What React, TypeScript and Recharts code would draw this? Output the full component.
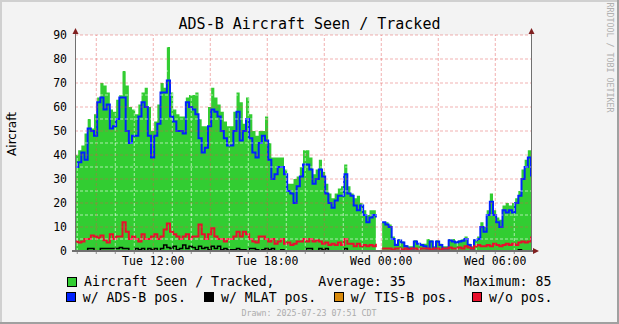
import React from 'react';
import { ComposedChart, Area, Line, XAxis, YAxis, ReferenceLine } from 'recharts';

// x positions: hours since Tue 00:00, one reading every 10 minutes
const startHour = 7.88;
const stepHours = 1 / 6;

const seenTracked = [
  40, 42, 44, 49, 55, 51, 57, 64, 70, 69,
  66, 59, 58, 63, 65, 75, 69, 60, 59, 57,
  61, 66, 68, 60, 50, 54, 61, 70, 68, 85,
  66, 59, 57, 56, 56, 64, 65, 65, 66, 55,
  52, 52, 60, 68, 64, 61, 58, 54, 52, 52,
  58, 66, 62, 53, 64, 57, 50, 48, 50, 50,
  56, 45, 39, 39, 39, 39, 34, 28, 28, 30,
  31, 35, 42, 42, 39, 32, 34, 38, 33, 28,
  24, 22, 24, 26, 27, 36, 27, 24, 22, 23,
  20, 17, 15, 17, 17, 16, null, 12, 12, 11,
  6, 3, 5, 4, 2.5, 2, 2, 4.5, 3, 3,
  3, 5, 4.5, 2, 4.5, 3, 2, 2, 5, 5,
  4, 4.5, 5, 6, 3, 2, 5, 6, 12, 10,
  17, 24, 17, 14, 13, 19, 20, 19, 20, 22,
  25, 34, 38, 42, 36,
];

const adsbPos = [
  35, 37, 41, 38, 51, 50, 48, 62, 64, 59,
  61, 51, 52, 55, 64, 64, 50, 45, 48, 48,
  56, 62, 60, 48, 39, 48, 53, 66, 66, 71,
  56, 54, 50, 50, 49, 62, 60, 59, 57, 47,
  41, 43, 52, 59, 58, 56, 50, 47, 44, 44,
  50, 58, 46, 50, 55, 47, 41, 39, 45, 48,
  46, 38, 30, 32, 35, 35, 32, 25, 24, 20,
  27, 31, 36, 36, 34, 28, 30, 34, 31, 24,
  20, 18, 21, 23, 23, 32, 24, 23, 19, 17,
  19, 15, 12, 14, 15, 14, null, 12, 11, 10,
  5, 2.5, 4.5, 3.5, 2, 1, 1, 4, 3, 2.5,
  2, 1, 4, 1, 4, 2.5, 1, 1, 4.5, 4,
  3.5, 4, 4.3, 5, 2.5, 1, 4.5, 5, 10, 8,
  15, 20.5, 15, 12, 10, 17, 16, 17, 16, 20,
  23, 30, 35, 39, 31,
];

const mlatPos = [
  0, 0, 0, 0, 1, 1, 0, 0, 1, 1,
  1, 1, 1, 1, 1.5, 1, 1, 0, 0, 1,
  0.5, 1, 0, 1, 0.5, 1, 0, 1, 2.5, 1.5,
  1, 2, 0.5, 1, 2.5, 1, 2, 1.5, 0.5, 2,
  1, 1.5, 0.5, 2, 1, 2, 0.5, 1, 0.5, 0.5,
  0.5, 1, 0.5, 0.5, 0, 1, 1, 0.5, 0, 0.5,
  1, 0.5, 1, 0, 0, 0.5, 0, 0, 0, 0,
  0, 0, 0, 1, 1, 0, 0, 1, 0.5, 1,
  0, 0, 0, 0, 0, 1, 0, 0, 0, 0,
  0, 0, 0, 0, 0, 0, null, 0, 0, 0,
  0, 0, 0, 0, 0, 0, 0, 0, 0, 0,
  0, 0, 0, 0, 0, 0, 0, 0, 0, 0,
  0, 0, 0, 0, 0, 0, 0, 0, 0, 0,
  0, 0, 0, 0, 0, 0, 0, 0, 0, 0,
  0.5, 0, 0, 0, 0,
];

const tisbPos = [
  0, 0, 0, 0, 0, 0, 0, 0, 0, 0,
  0, 0, 0, 0, 0, 0, 0, 0, 0, 0,
  0, 0, 0, 0, 0, 0, 0, 0, 0, 0,
  0, 0, 0, 0, 0, 0, 0, 0, 0, 0,
  0, 0, 0, 0, 0, 0, 0, 0, 0, 0,
  0, 0, 0, 0, 0, 0, 0, 0, 0, 0,
  0, 0, 0, 0, 0, 0, 0, 0, 0, 0,
  0, 0, 0, 0, 0, 0, 0, 0, 0, 0,
  0, 0, 0, 0, 0, 0, 0, 0, 0, 0,
  0, 0, 0, 0, 0, 0, null, 0, 0, 0,
  0, 0, 0, 0, 0, 0, 0, 0, 0, 0,
  0, 0, 0, 0, 0, 0, 0, 0, 0, 0,
  0, 0, 0, 0, 0, 0, 0, 0, 0, 0,
  0, 0, 0, 0, 0, 0, 0, 0, 0, 0,
  0, 0, 0, 0, 0,
];

const noPos = [
  4, 3.5, 4, 5, 5, 6.5, 6, 5.5, 6.5, 4.5,
  3.5, 7, 5, 6, 6, 12, 8, 5, 6, 5,
  4, 7, 5, 5, 6, 7, 5, 6, 9, 11.5,
  8, 7, 6, 5, 6, 7, 5, 6, 6, 11,
  7, 5, 7, 9.5, 6, 5, 5, 4, 5, 5,
  6, 8, 6, 8, 7, 5, 4, 3.5, 6, 6,
  5, 4, 5, 3, 4, 5, 3, 3.5, 2.5, 3,
  4, 4, 5, 4, 5, 4, 4.5, 4, 3, 3.5,
  2.5, 3, 2.5, 3.5, 2.5, 5, 3, 3, 2, 3,
  2, 2.5, 2, 2.5, 2, 3, null, 1, 1, 1,
  0.5, 1, 1, 0.5, 1, 0.5, 1, 1, 0.5, 1,
  1, 1, 0.5, 1, 1, 0.5, 1, 1, 1.5, 1,
  1, 1.5, 1, 2, 1.5, 1, 2, 2.5, 2, 2,
  2.5, 2, 3, 2.5, 2, 2.5, 3, 2.5, 3, 2.5,
  3.5, 4, 3.5, 4, 6,
];

const yTicks = [0, 10, 20, 30, 40, 50, 60, 70, 80, 90];
const hourTicks = [8, 9, 10, 11, 12, 13, 14, 15, 16, 17, 18, 19, 20, 21, 22, 23, 24, 25, 26, 27, 28, 29, 30, 31];
const timeLabels: Record<number, string> = { 12: 'Tue 12:00', 18: 'Tue 18:00', 24: 'Wed 00:00', 30: 'Wed 06:00' };
const majorYGrid = [10, 20, 30, 40, 50, 60, 70, 80, 90];
const minorYGrid = [5, 15, 25, 35, 45, 55, 65, 75, 85];
const majorXGrid = [9, 12, 15, 18, 21, 24, 27, 30];
const minorXGrid = [8, 10, 11, 13, 14, 16, 17, 19, 20, 22, 23, 25, 26, 28, 29, 31];

const data = seenTracked.map((v, i) => ({
  t: +(startHour + i * stepHours).toFixed(4),
  seen: v,
  adsb: adsbPos[i],
  mlat: mlatPos[i],
  tisb: tisbPos[i],
  nopos: noPos[i],
}));

const MONO = '"DejaVu Sans Mono", monospace';
const SANS = '"DejaVu Sans", sans-serif';

const C_GREEN = '#32CD32';
const C_BLUE = '#0022FF';
const C_BLACK = '#000000';
const C_ORANGE = '#D88A0C';
const C_RED = '#E8102C';

const MAJOR = 'rgba(224,80,80,0.45)';
const MINOR = 'rgba(255,255,255,0.6)';

export default function App() {
  return (
    <div style={{ position: 'absolute', left: 0, top: 0, width: 619, height: 324, background: '#F3F3F3', overflow: 'hidden' }}>
      <div style={{ position: 'absolute', left: 75, top: 35, width: 456, height: 216, background: '#FFFFFF' }} />
      <div style={{ position: 'absolute', left: 0, top: 0 }}>
        <ComposedChart width={619} height={324} data={data} margin={{ top: 35, right: 48, bottom: 53, left: 35 }}>
          <XAxis
            dataKey="t"
            type="number"
            domain={[7.88, 31.88]}
            allowDataOverflow
            ticks={hourTicks}
            interval={0}
            tickFormatter={(h: number) => timeLabels[h] ?? ''}
            axisLine={false}
            tickLine={{ stroke: '#909090' }}
            tickSize={3}
            tickMargin={3}
            height={20}
            tick={{ fontSize: 11.5, fontFamily: MONO, fill: '#000' }}
          />
          <YAxis
            domain={[0, 90]}
            ticks={yTicks}
            interval={0}
            width={40}
            axisLine={false}
            tickLine={false}
            tickSize={4}
            tickMargin={4}
            tick={{ fontSize: 11.5, fontFamily: MONO, fill: '#000' }}
          />
          <YAxis
            yAxisId="right"
            orientation="right"
            domain={[0, 90]}
            ticks={yTicks}
            interval={0}
            width={40}
            axisLine={false}
            tickLine={false}
            tickSize={4}
            tickMargin={38}
            tick={{ fontSize: 11.5, fontFamily: MONO, fill: '#000', textAnchor: 'end' }}
          />
          <Area dataKey="seen" type="stepAfter" fill={C_GREEN} fillOpacity={1} stroke="none" isAnimationActive={false} connectNulls={false} />
          <Line dataKey="adsb" type="stepAfter" stroke={C_BLUE} strokeWidth={2} dot={false} isAnimationActive={false} />
          <Line dataKey="mlat" type="stepAfter" stroke={C_BLACK} strokeWidth={1.5} dot={false} isAnimationActive={false} />
          <Line dataKey="tisb" type="stepAfter" stroke={C_ORANGE} strokeWidth={1} dot={false} isAnimationActive={false} />
          <Line dataKey="nopos" type="stepAfter" stroke={C_RED} strokeWidth={2} dot={false} isAnimationActive={false} />
          {minorYGrid.map((v) => (
            <ReferenceLine key={'my' + v} y={v} stroke={MINOR} strokeDasharray="3 2" zIndex={450} />
          ))}
          {minorXGrid.map((h) => (
            <ReferenceLine key={'mx' + h} x={h} stroke={MINOR} strokeDasharray="3 2" zIndex={450} />
          ))}
          {majorYGrid.map((v) => (
            <ReferenceLine key={'My' + v} y={v} stroke={MAJOR} strokeDasharray="3 2" zIndex={460} />
          ))}
          {majorXGrid.map((h) => (
            <ReferenceLine key={'Mx' + h} x={h} stroke={MAJOR} strokeDasharray="3 2" zIndex={460} />
          ))}
        </ComposedChart>
      </div>
      <svg width={619} height={324} style={{ position: 'absolute', left: 0, top: 0, pointerEvents: 'none' }}>
        {/* frame */}
        <rect x={0} y={0} width={619} height={2} fill="#D0D0D0" />
        <rect x={0} y={0} width={2} height={324} fill="#D0D0D0" />
        <rect x={0} y={322} width={619} height={2} fill="#A0A0A0" />
        <rect x={617} y={0} width={2} height={324} fill="#A0A0A0" />
        {/* axes */}
        <line x1={75.5} y1={33} x2={75.5} y2={252} stroke="#707070" strokeWidth={1} />
        <line x1={531.5} y1={33} x2={531.5} y2={252} stroke="#707070" strokeWidth={1} />
        <line x1={72} y1={251} x2={534} y2={251} stroke="#707070" strokeWidth={2} />
        <polygon points="72.5,34 78.5,34 75.5,28" fill="#802020" />
        <polygon points="528.5,34 534.5,34 531.5,28" fill="#802020" />
        <polygon points="533,248 533,254 539,251" fill="#802020" />
        {/* title */}
        <text x={309.5} y={29} textAnchor="middle" fontFamily={MONO} fontSize={15} fill="#000">ADS-B Aircraft Seen / Tracked</text>
        {/* y label */}
        <text x={15.7} y={134} transform="rotate(-90 15.7 134)" textAnchor="middle" fontFamily={SANS} fontSize={12} fill="#000">Aircraft</text>
        {/* watermark */}
        <text x={606.7} y={57.5} transform="rotate(90 606.7 57.5)" textAnchor="middle" fontFamily={MONO} fontSize={8.3} fill="#B0B0B0">RRDTOOL / TOBI OETIKER</text>
        {/* legend row 1 */}
        <rect x={67.5} y={277.5} width={9} height={9} fill={C_GREEN} stroke="#000" strokeWidth={1} />
        <text x={84} y={286} fontFamily={MONO} fontSize={13.2} fill="#000" style={{ whiteSpace: 'pre' }}>Aircraft Seen / Tracked,</text>
        <text x={318.3} y={286} fontFamily={MONO} fontSize={13.2} fill="#000" style={{ whiteSpace: 'pre' }}>Average: 35</text>
        <text x={464} y={286} fontFamily={MONO} fontSize={13.2} fill="#000" style={{ whiteSpace: 'pre' }}>Maximum: 85</text>
        {/* legend row 2 */}
        <rect x={66.5} y={292.5} width={9} height={9} fill={C_BLUE} stroke="#000" strokeWidth={1} />
        <text x={82.7} y={302} fontFamily={MONO} fontSize={13.2} fill="#000">w/ ADS-B pos.</text>
        <rect x={204.5} y={292.5} width={9} height={9} fill={C_BLACK} stroke="#000" strokeWidth={1} />
        <text x={221} y={302} fontFamily={MONO} fontSize={13.2} fill="#000">w/ MLAT pos.</text>
        <rect x={334.5} y={292.5} width={9} height={9} fill={C_ORANGE} stroke="#000" strokeWidth={1} />
        <text x={350.7} y={302} fontFamily={MONO} fontSize={13.2} fill="#000">w/ TIS-B pos.</text>
        <rect x={472.5} y={292.5} width={9} height={9} fill={C_RED} stroke="#000" strokeWidth={1} />
        <text x={489} y={302} fontFamily={MONO} fontSize={13.2} fill="#000">w/o pos.</text>
        {/* drawn */}
        <text x={309} y={315.5} textAnchor="middle" fontFamily={MONO} fontSize={8.3} fill="#ABABAB">Drawn: 2025-07-23 07:51 CDT</text>
      </svg>
    </div>
  );
}
